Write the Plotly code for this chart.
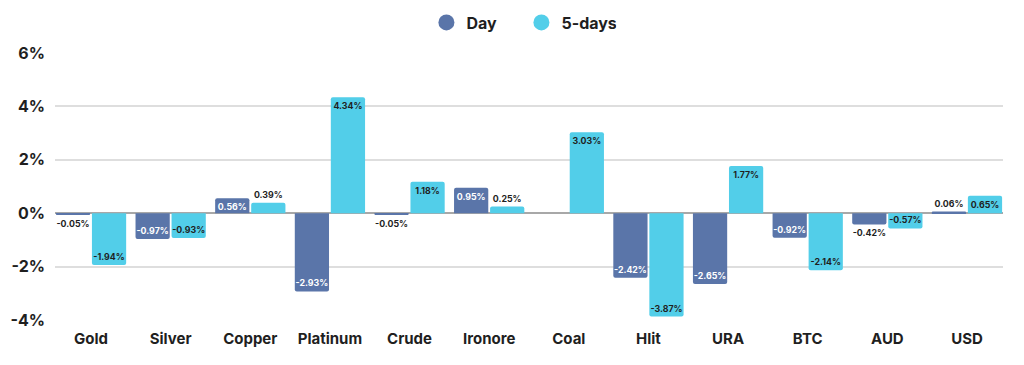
import plotly.graph_objects as go

categories = ["Gold", "Silver", "Copper", "Platinum", "Crude", "Ironore",
              "Coal", "Hlit", "URA", "BTC", "AUD", "USD"]
day_values = [-0.05, -0.97, 0.56, -2.93, -0.05, 0.95, None, -2.42, -2.65, -0.92, -0.42, 0.06]
five_day_values = [-1.94, -0.93, 0.39, 4.34, 1.18, 0.25, 3.03, -3.87, 1.77, -2.14, -0.57, 0.65]
y_ticks = [-4, -2, 0, 2, 4, 6]
y_tick_labels = ["-4%", "-2%", "0%", "2%", "4%", "6%"]

DAY_COLOR = "#5a75a9"
FIVE_COLOR = "#52cee9"
DARK = "#1f1f1f"
FONT = "Inter"
BARGAP = 0.095

def positions(vals, threshold):
    pos = []
    for v in vals:
        if v is None:
            pos.append("none")
        elif abs(v) < threshold:
            pos.append("outside")
        else:
            pos.append("inside")
    return pos

day_pos = positions(day_values, 0.5)
five_pos = positions(five_day_values, 0.5)
day_text_colors = ["#ffffff" if p == "inside" else DARK for p in day_pos]
five_text_colors = [DARK for _ in five_pos]

def labels(vals):
    return ["" if v is None else f"{v:.2f}%" for v in vals]

fig = go.Figure()
fig.add_trace(go.Bar(
    x=categories, y=day_values, name="Day", marker_color=DAY_COLOR,
    text=labels(day_values), textposition=day_pos, insidetextanchor="end",
    textangle=0,
    textfont=dict(family=FONT, size=8.8, color=day_text_colors, weight=700),
    constraintext="none", cliponaxis=False, showlegend=False,
    marker_line_width=0,
))
fig.add_trace(go.Bar(
    x=categories, y=five_day_values, name="5-days", marker_color=FIVE_COLOR,
    text=labels(five_day_values), textposition=five_pos, insidetextanchor="end",
    textangle=0,
    textfont=dict(family=FONT, size=8.8, color=five_text_colors, weight=700),
    constraintext="none", cliponaxis=False, showlegend=False,
    marker_line_width=0,
))
# legend entries with circular symbols
fig.add_trace(go.Scatter(x=[None], y=[None], mode="markers", name="Day",
                         marker=dict(symbol="circle", size=16, color=DAY_COLOR)))
fig.add_trace(go.Scatter(x=[None], y=[None], mode="markers", name="5-days",
                         marker=dict(symbol="circle", size=16, color=FIVE_COLOR)))

fig.update_layout(
    width=1024, height=365,
    margin=dict(l=55, r=21, t=53, b=45, autoexpand=False),
    paper_bgcolor="white", plot_bgcolor="white",
    barmode="group", bargap=BARGAP, bargroupgap=0.05,
    barcornerradius=2,
    font=dict(family=FONT, color=DARK),
    legend=dict(orientation="h", x=0.492, xanchor="center", y=0.985, yanchor="top",
                yref="container", font=dict(family=FONT, size=16, weight=700),
                entrywidth=50, entrywidthmode="pixels", traceorder="normal"),
)
fig.update_xaxes(showgrid=False, showline=False, ticks="",
                 range=[-0.5 + BARGAP / 2, len(categories) - 0.5 - BARGAP / 2],
                 ticklabelstandoff=8,
                 tickfont=dict(family=FONT, size=15, weight=700, color=DARK))
fig.update_yaxes(range=[-4, 6], tickvals=y_ticks, ticktext=y_tick_labels,
                 showgrid=True, gridcolor="#dedede", gridwidth=1.5,
                 zeroline=True, zerolinecolor="#a8a8a8", zerolinewidth=1.5,
                 ticks="", ticklabelstandoff=9,
                 tickfont=dict(family=FONT, size=16, weight=700, color=DARK))

fig.write_html("out.html", config={"displayModeBar": False},
               post_script="document.body.style.margin='0';document.body.style.overflow='hidden';")
